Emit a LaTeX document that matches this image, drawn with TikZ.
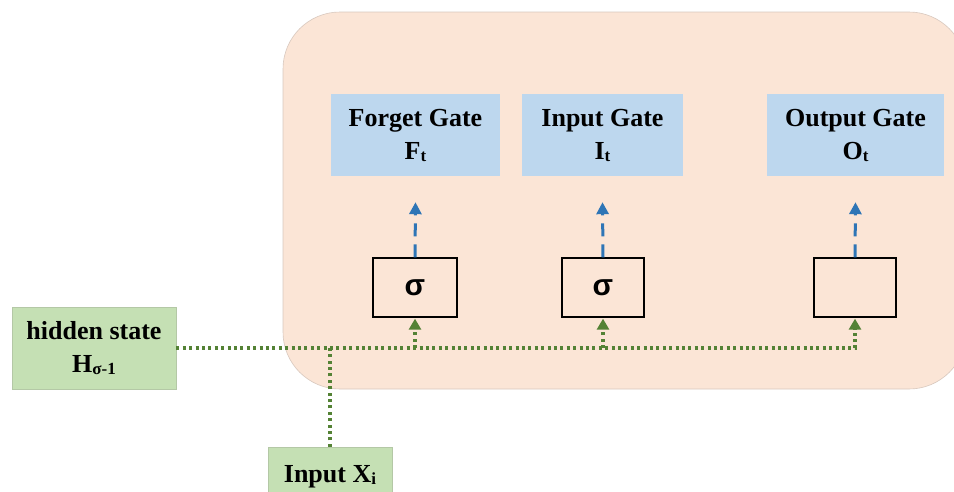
\documentclass[tikz,border=0pt]{standalone}
\usepackage{fontspec}
\setmainfont{Liberation Serif}
\newfontfamily\sigfont{Liberation Sans}
\usetikzlibrary{arrows.meta}

\definecolor{cellfill}{HTML}{FBE5D6}
\definecolor{celledge}{HTML}{D8C8BE}
\definecolor{gatefill}{HTML}{BDD7EE}
\definecolor{statefill}{HTML}{C5E0B4}
\definecolor{stateedge}{HTML}{B4C8A6}
\definecolor{flowgreen}{HTML}{548235}
\definecolor{flowblue}{HTML}{2E75B6}

\newcommand{\lowsub}[1]{{\fontsize{17}{17}\selectfont\raisebox{-2pt}{#1}}}

\begin{document}
\begin{tikzpicture}[x=1pt,y=-1pt,
  lbl/.style={font=\fontsize{26}{33}\selectfont\bfseries, align=center, inner sep=0pt},
  gatebox/.style={lbl, fill=gatefill, minimum width=169pt, minimum height=82pt},
  statebox/.style={lbl, fill=statefill, draw=stateedge, line width=0.6pt},
  actbox/.style={draw=black, line width=1.3pt, minimum width=83pt, minimum height=59pt,
                 inner sep=0pt, font=\sigfont\bfseries\fontsize{30}{30}\selectfont},
  greenflow/.style={draw=flowgreen, line width=3.2pt, dash pattern=on 3pt off 3.4pt},
  greenarrow/.style={greenflow, -{Triangle[length=11pt,width=12pt,fill=flowgreen]}},
  bluearrow/.style={draw=flowblue, line width=3pt, dash pattern=on 13pt off 8pt,
                    -{Triangle[length=12pt,width=12pt,fill=flowblue]}},
  ]
\useasboundingbox (0,0) rectangle (954,491);
\clip (0,0) rectangle (954,491);

% LSTM cell body
\draw[fill=cellfill, draw=celledge, line width=0.6pt, rounded corners=57pt]
  (283,12) rectangle (966,389);

% gate outputs
\node[gatebox] (fg) at (415.5,135) {Forget Gate\\F\lowsub{t}};
\node[gatebox, minimum width=161pt] (ig) at (602.5,135) {Input Gate\\I\lowsub{t}};
\node[gatebox, minimum width=177pt] (og) at (855.5,135) {Output Gate\\O\lowsub{t}};

% activation boxes
\node[actbox, minimum width=84pt] (s1) at (415,287.5) {σ};
\node[actbox, minimum width=82pt] (s2) at (603,287.5) {σ};
\node[actbox, minimum width=82pt] (s3) at (855,287.5) {};

% inputs
\node[statebox, minimum width=164pt, minimum height=82pt] (hid) at (94,348)
  {hidden state\\H{\fontsize{17}{17}\selectfont\raisebox{-2pt}{σ-1}}};
\node[statebox, minimum width=124pt, text height=35pt, text depth=47pt] (inp) at (330,488)
  {Input X\lowsub{i}};

% junctions on the shared input line
\coordinate (jx) at (330,348);
\coordinate (j1) at (415,348);
\coordinate (j2) at (603,348);
\coordinate (j3) at (855,348);

% combined input flow
\draw[greenflow] (hid.east) -- (j3) -- ([yshift=-12pt]s3.south);
\draw[greenflow] (inp.north) -- (jx);
\draw[greenarrow] (j1) -- ([yshift=-1pt]s1.south);
\draw[greenarrow] (j2) -- ([yshift=-1pt]s2.south);
\draw[greenarrow] ([yshift=-12pt]s3.south) -- ([yshift=-1pt]s3.south);

% gate activations
\draw[bluearrow] (s1.north) -- ([yshift=-26pt]fg.south);
\draw[bluearrow] (s2.north) -- ([yshift=-26pt]ig.south);
\draw[bluearrow] (s3.north) -- ([yshift=-26pt]og.south);
\end{tikzpicture}
\end{document}
